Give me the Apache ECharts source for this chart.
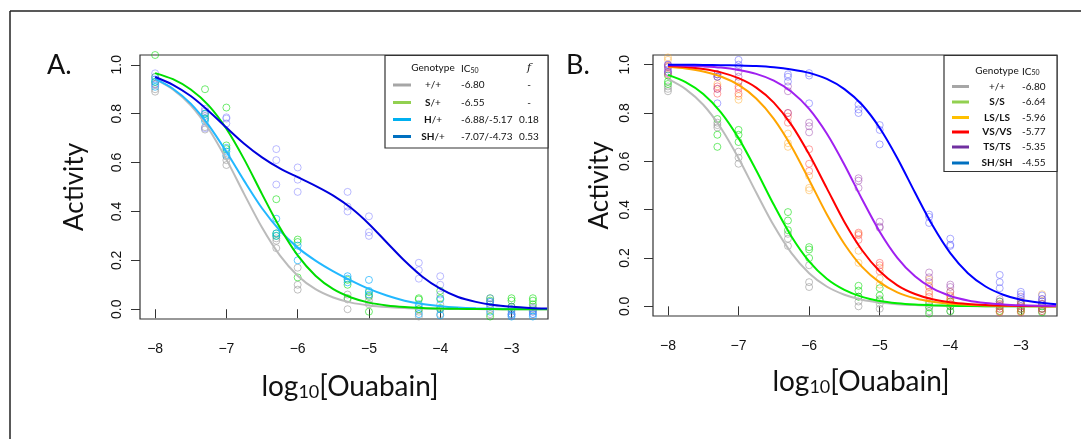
<!DOCTYPE html>
<html>
<head>
<meta charset="utf-8">
<script src="https://cdn.jsdelivr.net/npm/echarts@6/dist/echarts.min.js"></script>
<style>
  html, body { margin: 0; padding: 0; background: #fff; }
  #root { width: 1081px; height: 439px; }
</style>
</head>
<body>
<div id="root"></div>
<script>
// log10 ouabain concentrations of the measured points
const xConc = [-8, -7.3, -7, -6.3, -6, -5.3, -5, -4.3, -4, -3.3, -3, -2.7];
const xTicks = [-8, -7, -6, -5, -4, -3];
const yTicks = [0, 0.2, 0.4, 0.6, 0.8, 1.0];

// panel A replicates (3 per concentration)
const aWT = [[0.89,0.90,0.92],[0.735,0.745,0.79],[0.59,0.61,0.625],[0.25,0.28,0.29],[0.17,0.10,0.08],[0.06,0.04,0.00],[0.035,0.05,0.02],[0.00,-0.01,-0.03],[0.02,0.00,-0.02],[0.02,0.00,-0.02],[0.01,0.0,-0.02],[0.01,0.0,-0.01]];
const aS = [[1.04,0.95,0.93],[0.90,0.80,0.78],[0.825,0.67,0.655],[0.45,0.30,0.31],[0.285,0.275,0.13],[0.12,0.10,0.045],[0.07,0.055,-0.01],[0.045,0.04,0.00],[0.075,0.045,0.005],[0.045,0.035,-0.03],[0.045,0.035,0.01],[0.045,0.035,0.02]];
const aH = [[0.91,0.93,0.94],[0.77,0.78,0.80],[0.645,0.63,0.66],[0.37,0.31,0.30],[0.26,0.24,0.20],[0.135,0.125,0.11],[0.12,0.075,0.06],[0.02,0.01,-0.02],[0.04,0.00,-0.025],[0.03,0.01,-0.01],[0.0,-0.02,-0.03],[-0.005,-0.02,-0.03]];
const aSH = [[0.965,0.95,0.92],[0.82,0.81,0.74],[0.785,0.78,0.76],[0.655,0.61,0.51],[0.58,0.53,0.48],[0.48,0.42,0.40],[0.38,0.315,0.30],[0.19,0.16,0.125],[0.135,0.10,0.06],[0.045,0.03,0.02],[0.01,-0.01,-0.025],[0.005,-0.01,-0.02]];

// panel B replicates
const bWT = [[0.91,0.90,0.89],[0.76,0.75,0.74],[0.64,0.615,0.59],[0.28,0.25,0.30],[0.17,0.10,0.08],[0.04,0.02,0.00],[0.03,0.01,-0.01],[0.02,0.0,-0.02],[0.02,0.0,-0.02],[0.01,-0.01,-0.02],[0.01,-0.01,-0.02],[0.01,-0.01,-0.02]];
const bSS = [[0.955,0.93,0.92],[0.775,0.71,0.66],[0.73,0.71,0.68],[0.39,0.355,0.315],[0.245,0.235,0.20],[0.085,0.065,0.04],[0.075,0.045,0.025],[0.01,-0.005,-0.03],[0.02,0.0,-0.02],[0.02,0.0,-0.02],[0.01,-0.01,-0.02],[0.0,-0.01,-0.025]];
const bLS = [[1.03,1.02,0.99],[0.96,0.95,0.92],[0.93,0.87,0.855],[0.715,0.675,0.66],[0.54,0.49,0.48],[0.23,0.18,0.30],[0.16,0.115,0.09],[0.11,0.085,0.05],[0.06,0.04,0.03],[0.01,0.0,-0.02],[0.02,0.0,-0.02],[0.05,0.02,-0.01]];
const bVS = [[0.995,0.97,0.96],[0.91,0.90,0.88],[0.91,0.90,0.88],[0.80,0.785,0.76],[0.65,0.59,0.56],[0.305,0.295,0.275],[0.18,0.17,0.145],[0.08,0.06,0.04],[0.045,0.03,0.01],[0.005,-0.01,-0.025],[0.01,-0.01,-0.025],[0.01,-0.01,-0.02]];
const bTS = [[1.0,0.99,0.965],[0.96,0.95,0.90],[0.97,0.95,0.93],[0.91,0.89,0.80],[0.76,0.745,0.72],[0.53,0.52,0.49],[0.35,0.325,0.33],[0.14,0.12,0.10],[0.09,0.08,0.06],[0.03,0.02,0.0],[0.04,0.02,0.0],[0.03,0.01,-0.01]];
const bSH = [[1.0,0.98,0.97],[0.96,0.95,0.84],[1.02,1.0,0.99],[0.96,0.95,0.93],[0.965,0.955,0.84],[0.835,0.815,0.80],[0.75,0.73,0.67],[0.38,0.37,0.345],[0.28,0.255,0.25],[0.13,0.10,0.075],[0.06,0.05,0.03],[0.045,0.03,0.02]];

// fitted curves, read every quarter log unit from -8 to -2.5
const curveX = [-8, -7.75, -7.5, -7.25, -7, -6.75, -6.5, -6.25, -6, -5.75, -5.5, -5.25, -5, -4.75, -4.5, -4.25, -4, -3.75, -3.5, -3.25, -3, -2.75, -2.5];
const fitWT = [0.941, 0.899, 0.834, 0.738, 0.613, 0.471, 0.334, 0.220, 0.137, 0.082, 0.048, 0.027, 0.0156, 0.0088, 0.005, 0.0028, 0.0016, 0.0009, 0.0005, 0.0003, 0.0002, 0.0001, 0.0001];
const fitAS = [0.966, 0.941, 0.899, 0.834, 0.738, 0.613, 0.471, 0.334, 0.220, 0.137, 0.082, 0.048, 0.027, 0.0156, 0.0088, 0.005, 0.0028, 0.0016, 0.0009, 0.0005, 0.0003, 0.0002, 0.0001];
const fitAH = [0.942, 0.902, 0.841, 0.753, 0.644, 0.525, 0.413, 0.322, 0.252, 0.199, 0.155, 0.117, 0.083, 0.056, 0.035, 0.021, 0.0125, 0.0072, 0.0041, 0.0023, 0.0013, 0.0007, 0.0004];
const fitASH = [0.950, 0.918, 0.872, 0.811, 0.743, 0.677, 0.621, 0.576, 0.540, 0.505, 0.465, 0.414, 0.349, 0.273, 0.198, 0.133, 0.084, 0.050, 0.030, 0.017, 0.010, 0.0055, 0.0031];
const fitBS = [0.958, 0.928, 0.879, 0.803, 0.696, 0.563, 0.420, 0.289, 0.186, 0.114, 0.068, 0.039, 0.022, 0.0127, 0.0072, 0.0041, 0.0023, 0.0013, 0.0007, 0.0004, 0.0002, 0.0001, 0.0001];
const fitLS = [0.991, 0.984, 0.972, 0.951, 0.916, 0.860, 0.776, 0.661, 0.523, 0.381, 0.258, 0.163, 0.099, 0.058, 0.0335, 0.0191, 0.0108, 0.0061, 0.0035, 0.0019, 0.0011, 0.0006, 0.0003];
const fitVS = [0.994, 0.990, 0.982, 0.968, 0.944, 0.905, 0.843, 0.751, 0.629, 0.489, 0.349, 0.232, 0.145, 0.087, 0.051, 0.029, 0.0167, 0.0095, 0.0054, 0.003, 0.0017, 0.001, 0.0005];
const fitTS = [0.998, 0.996, 0.993, 0.988, 0.978, 0.962, 0.934, 0.888, 0.817, 0.715, 0.586, 0.443, 0.309, 0.201, 0.124, 0.074, 0.043, 0.0245, 0.0139, 0.0079, 0.0044, 0.0025, 0.0014];
const fitSH = [0.9996, 0.9994, 0.999, 0.998, 0.9965, 0.994, 0.989, 0.980, 0.966, 0.941, 0.899, 0.834, 0.738, 0.613, 0.471, 0.334, 0.220, 0.137, 0.082, 0.048, 0.027, 0.0156, 0.0088];

// legend texts
const legAGeno = ['+/+', '{g|S}/+', '{b|H}/+', '{g|S}{b|H}/+'];
const legAIC = ['-6.80', '-6.55', '-6.88/-5.17', '-7.07/-4.73'];
const legAF = ['-', '-', '0.18', '0.53'];
const legBGeno = ['+/+', '{g|S/S}', '{r|L}{g|S/}{r|L}{g|S}', '{r|V}{g|S/}{r|V}{g|S}', '{r|T}{g|S/}{r|T}{g|S}', '{g|S}{b|H}/{g|S}{b|H}'];
const legBIC = ['-6.80', '-6.64', '-5.96', '-5.77', '-5.35', '-4.55'];

const legAColors = ['#a6a6a6', '#92d050', '#00b0f0', '#0070c0'];
const legBColors = ['#a6a6a6', '#92d050', '#ffc000', '#ff0000', '#7030a0', '#0070c0'];

const chart = echarts.init(document.getElementById('root'));

function pts(reps) {
  const out = [];
  reps.forEach((col, i) => col.forEach(v => out.push([xConc[i], v])));
  return out;
}
function curve(ys) {
  return curveX.map((x, i) => [x, ys[i]]);
}
function scatter(gi, reps, color) {
  return {
    type: 'scatter', xAxisIndex: gi, yAxisIndex: gi, data: pts(reps),
    symbol: 'circle', symbolSize: 7, z: 2,
    itemStyle: { color: 'rgba(0,0,0,0)', borderColor: color, borderWidth: 1 },
    silent: true
  };
}
function line(gi, ys, color) {
  return {
    type: 'line', xAxisIndex: gi, yAxisIndex: gi, data: curve(ys),
    showSymbol: false, smooth: 0.3, z: 3,
    lineStyle: { color: color, width: 2 }, silent: true
  };
}

const tickFont = { fontFamily: 'Liberation Sans', fontSize: 14, color: '#111' };
const nameRich = {
  m: { fontFamily: 'Lato', fontSize: 28, color: '#111', lineHeight: 34, verticalAlign: 'bottom' },
  s: { fontFamily: 'Lato', fontSize: 18, color: '#111', lineHeight: 17, verticalAlign: 'bottom' }
};

function xAxis(gi, gap) {
  return {
    gridIndex: gi, type: 'value', min: -8.212, max: -2.488,
    axisLine: { show: false }, splitLine: { show: false },
    axisTick: { show: true, customValues: xTicks, length: 9, lineStyle: { color: '#333', width: 1 } },
    axisLabel: Object.assign({ customValues: xTicks, margin: 23,
      formatter: v => (v < 0 ? '\u2212' : '') + Math.abs(v) }, tickFont),
    name: '{m|log}{s|10}{m|[Ouabain]}', nameLocation: 'middle', nameGap: gap,
    nameTextStyle: { rich: nameRich, padding: [0, 0, 0, 12] }
  };
}
function yAxis(gi, margin, gap) {
  return {
    gridIndex: gi, type: 'value', min: -0.04, max: 1.04,
    axisLine: { show: false }, splitLine: { show: false },
    axisTick: { show: true, customValues: yTicks, length: 9, lineStyle: { color: '#333', width: 1 } },
    axisLabel: Object.assign({ customValues: yTicks, rotate: 90, margin: margin,
      formatter: v => v.toFixed(1) }, tickFont),
    name: 'Activity', nameLocation: 'middle', nameRotate: 90, nameGap: gap,
    nameTextStyle: { fontFamily: 'Lato', fontSize: 26, color: '#111' }
  };
}

// legend drawn as graphic boxes
const legRich = {
  g: { color: '#00b050', fontWeight: 'bold', fontFamily: 'Lato', fontSize: 10 },
  r: { color: '#ff0000', fontWeight: 'bold', fontFamily: 'Lato', fontSize: 10 },
  b: { color: '#0070c0', fontWeight: 'bold', fontFamily: 'Lato', fontSize: 10 }
};
const icRich = {
  n: { fontFamily: 'Lato', fontSize: 10, color: '#111', lineHeight: 12, verticalAlign: 'bottom' },
  s: { fontFamily: 'Lato', fontSize: 7, color: '#111', lineHeight: 5, verticalAlign: 'bottom' }
};
function txt(x, y, text, align, rich) {
  return { type: 'text', x: x, y: y, silent: true,
    style: { text: text, fill: '#111', font: '10px Lato', align: align, verticalAlign: 'middle', rich: rich || legRich } };
}
function legend(box, headY, rowsY, lineX, genoX, icX, fX, geno, ic, f, colors) {
  const els = [{ type: 'rect', shape: box, silent: true,
    style: { fill: '#fff', stroke: '#333', lineWidth: 1.2 } }];
  els.push(txt(genoX, headY, 'Genotype', 'center'));
  els.push(txt(icX, headY, '{n|IC}{s|50}', 'left', icRich));
  if (f) {
    els.push({ type: 'text', x: fX, y: headY, silent: true,
      style: { text: 'f', font: 'italic 11px "DejaVu Serif"', fill: '#111', align: 'center', verticalAlign: 'middle' } });
  }
  rowsY.forEach((y, i) => {
    els.push({ type: 'line', silent: true, shape: { x1: lineX[0], y1: y, x2: lineX[1], y2: y },
      style: { stroke: colors[i], lineWidth: 3 } });
    els.push(txt(genoX, y, geno[i], 'center'));
    els.push(txt(icX, y, ic[i], 'left'));
    if (f) els.push(txt(fX, y, f[i], 'center'));
  });
  return els.map(e => Object.assign({ z: 10 }, e));
}

const graphics = [
  { type: 'line', shape: { x1: 10, y1: 11, x2: 1081, y2: 11 }, style: { stroke: '#222', lineWidth: 1.5 } },
  { type: 'line', shape: { x1: 10, y1: 11, x2: 10, y2: 439 }, style: { stroke: '#222', lineWidth: 1.5 } },
  { type: 'text', x: 47, y: 65, style: { text: 'A.', font: '27px Lato', fill: '#111', verticalAlign: 'middle' } },
  { type: 'text', x: 566, y: 65, style: { text: 'B.', font: '27px Lato', fill: '#111', verticalAlign: 'middle' } }
].concat(
  legend({ x: 385, y: 55.5, width: 163, height: 92.5 }, 68, [85, 102.5, 119.5, 136.5],
    [393, 411], 433, 461, 529, legAGeno, legAIC, legAF, legAColors),
  legend({ x: 944, y: 55.5, width: 113, height: 116 }, 70.5, [86.5, 102, 117.5, 132, 147, 163],
    [952, 969], 997, 1022, 0, legBGeno, legBIC, null, legBColors)
);

const option = {
  animation: false,
  backgroundColor: '#fff',
  grid: [
    { left: 140, top: 55, width: 408, height: 264, show: true, borderColor: '#333', borderWidth: 1.2, backgroundColor: 'transparent' },
    { left: 653, top: 55, width: 404, height: 261, show: true, borderColor: '#333', borderWidth: 1.2, backgroundColor: 'transparent' }
  ],
  xAxis: [xAxis(0, 48), xAxis(1, 46)],
  yAxis: [yAxis(0, 16, 52), yAxis(1, 21, 40)],
  series: [
    scatter(0, aWT, 'rgba(150,150,150,0.75)'),
    scatter(0, aS, 'rgba(0,220,0,0.7)'),
    scatter(0, aH, 'rgba(0,170,255,0.8)'),
    scatter(0, aSH, 'rgba(100,100,255,0.55)'),
    line(0, fitWT, '#bbbbbb'),
    line(0, fitAH, '#22b8ff'),
    line(0, fitAS, '#00dd00'),
    line(0, fitASH, '#0000dd'),

    scatter(1, bWT, 'rgba(150,150,150,0.75)'),
    scatter(1, bSS, 'rgba(0,220,0,0.7)'),
    scatter(1, bLS, 'rgba(255,170,40,0.6)'),
    scatter(1, bVS, 'rgba(255,60,60,0.6)'),
    scatter(1, bTS, 'rgba(150,60,170,0.6)'),
    scatter(1, bSH, 'rgba(80,80,255,0.6)'),
    line(1, fitWT, '#bbbbbb'),
    line(1, fitBS, '#00ee00'),
    line(1, fitLS, '#ffa500'),
    line(1, fitVS, '#ff0000'),
    line(1, fitTS, '#a020f0'),
    line(1, fitSH, '#0000ff')
  ],
  graphic: graphics
};

chart.setOption(option);
</script>
</body>
</html>
